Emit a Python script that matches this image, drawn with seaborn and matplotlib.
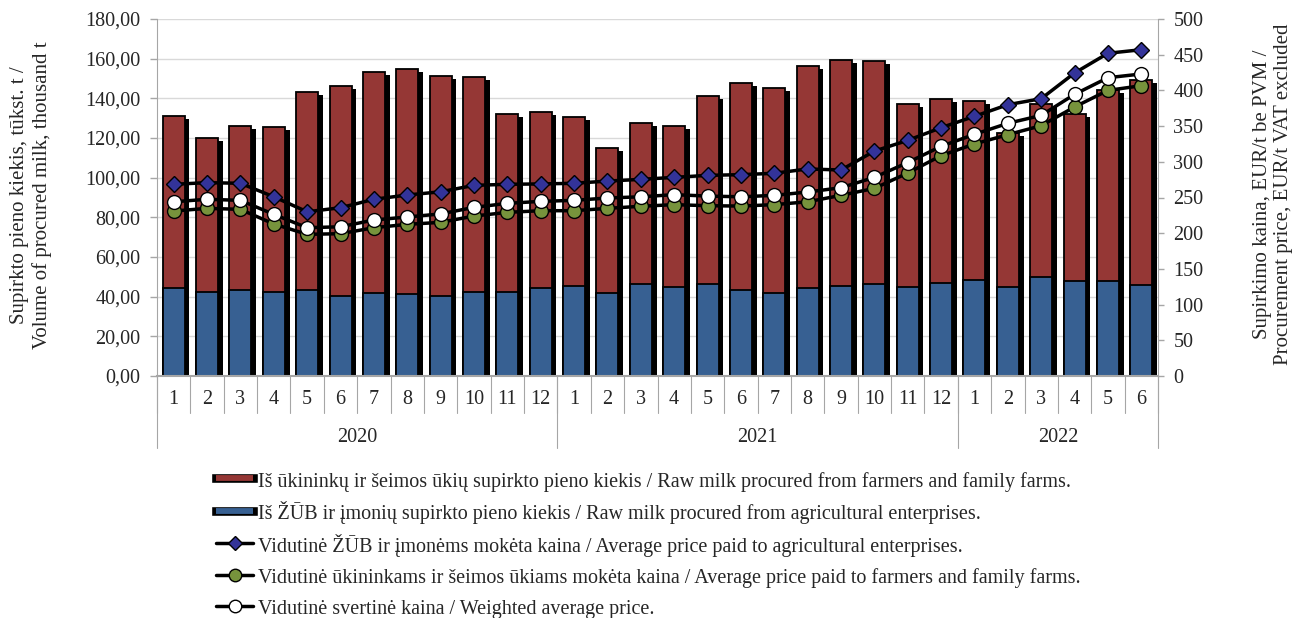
import numpy as np
import pandas as pd
import matplotlib
matplotlib.use("Agg")
import matplotlib.pyplot as plt
import matplotlib.patheffects as pe
import matplotlib.transforms as mtransforms
from matplotlib.lines import Line2D
from matplotlib.ticker import FuncFormatter, MultipleLocator
import seaborn as sns

# --- data ---
years = ["2020", "2021", "2022"]
year_months = [12, 12, 6]
months = list(range(1, 13)) + list(range(1, 13)) + list(range(1, 7))

# thousand t
enterprises_milk = [44.2, 42.2, 43.5, 42.2, 43.2, 40.2, 41.7, 41.5, 40.2, 42.4, 42.2, 44.2,
                    45.4, 41.7, 46.5, 44.9, 46.2, 43.2, 42.0, 44.4, 45.5, 46.4, 45.0, 46.7,
                    48.4, 44.7, 50.1, 47.9, 48.1, 45.9]
farmers_milk = [86.9, 77.7, 82.6, 83.2, 100.2, 106.0, 111.8, 113.5, 110.9, 108.4, 89.9, 89.1,
                85.4, 73.4, 81.2, 81.0, 95.1, 104.7, 103.2, 111.9, 113.7, 112.3, 92.0, 93.2,
                90.4, 78.0, 86.9, 84.2, 95.9, 103.4]

# EUR/t
price_enterprises = [268.5, 270.8, 269.9, 251.0, 230.0, 235.7, 247.5, 253.5, 258.0, 267.0, 268.5, 269.0,
                     269.9, 273.0, 275.4, 278.2, 281.0, 282.0, 283.9, 290.0, 288.5, 315.0, 330.0, 347.8,
                     363.7, 380.0, 388.4, 424.4, 452.0, 457.0]
price_farmers = [231.0, 234.8, 233.4, 212.9, 198.4, 199.3, 207.7, 212.4, 215.2, 224.0, 229.2, 231.5,
                 231.5, 234.8, 237.7, 240.0, 238.5, 238.0, 240.0, 244.0, 253.0, 262.8, 284.3, 308.6,
                 325.0, 338.0, 350.6, 376.8, 400.0, 406.6]
price_weighted = [244.0, 247.5, 246.0, 226.4, 207.7, 209.0, 218.5, 222.7, 227.0, 236.2, 241.8, 244.6,
                  246.0, 249.3, 251.0, 254.0, 252.0, 251.0, 253.0, 257.7, 263.7, 278.2, 299.0, 321.7,
                  338.5, 353.9, 365.0, 394.5, 417.8, 423.0]

labels = [
    "Iš ūkininkų ir šeimos ūkių supirkto pieno kiekis / Raw milk procured from farmers and family farms.",
    "Iš ŽŪB ir įmonių supirkto pieno kiekis / Raw milk procured from agricultural enterprises.",
    "Vidutinė ŽŪB ir įmonėms mokėta kaina / Average price paid to agricultural enterprises.",
    "Vidutinė ūkininkams ir šeimos ūkiams mokėta kaina / Average price paid to farmers and family farms.",
    "Vidutinė svertinė kaina / Weighted average price.",
]

red = "#953735"
blue = "#376092"
green = "#77933C"
navy = "#333399"
grey = "#A6A6A6"

df = pd.DataFrame({
    "pos": np.arange(len(months)),
    "month": months,
    "enterprises": enterprises_milk,
    "farmers": farmers_milk,
})
df["stack_top"] = df["enterprises"] + df["farmers"]

sns.set_style("white")
plt.rcParams["font.family"] = ["Liberation Serif", "DejaVu Serif"]
plt.rcParams["font.size"] = 14.5

fig = plt.figure(figsize=(12.96, 6.18), dpi=100)
ax = fig.add_axes([157 / 1296, 1 - 376 / 618, 1001 / 1296, 357 / 618])

# stacked bars: farmers drawn as full stack, enterprises on top of it
sns.barplot(data=df, x="pos", y="stack_top", color=red, saturation=1, width=0.66,
            edgecolor="black", linewidth=1.3, ax=ax)
sns.barplot(data=df, x="pos", y="enterprises", color=blue, saturation=1, width=0.66,
            edgecolor="black", linewidth=1.3, ax=ax)
shadow = [pe.SimplePatchShadow(offset=(3.4, -2.2), shadow_rgbFace="black", alpha=1), pe.Normal()]
for p in ax.patches:
    p.set_path_effects(shadow)

ax.set_ylim(0, 180)
ax.yaxis.set_major_locator(MultipleLocator(20))
ax.yaxis.set_major_formatter(FuncFormatter(lambda v, _: f"{v:.2f}".replace(".", ",")))
ax.yaxis.grid(True, color="#D9D9D9", lw=1)
ax.set_axisbelow(True)
ax.set_xlim(-0.5, len(months) - 0.5)
ax.set_xticks(df["pos"])
ax.set_xticklabels(months)
ax.tick_params(axis="x", length=0, pad=10)
ax.tick_params(axis="y", length=5, color=grey, width=1, direction="out", pad=7)
ax.set_xlabel("")
ax.set_ylabel("")
for s in ["top", "right"]:
    ax.spines[s].set_visible(False)
ax.spines["left"].set_color(grey)
ax.spines["bottom"].set_color(grey)
ax.spines["bottom"].set_linewidth(1.5)

# price lines on the secondary axis
ax2 = ax.twinx()
line_kw = dict(color="black", lw=2.5, markeredgecolor="black", markeredgewidth=1, ax=ax2)
sns.lineplot(x=df["pos"], y=price_enterprises, marker="D", markersize=8.5,
             markerfacecolor=navy, **line_kw)
sns.lineplot(x=df["pos"], y=price_farmers, marker="o", markersize=10,
             markerfacecolor=green, **line_kw)
sns.lineplot(x=df["pos"], y=price_weighted, marker="o", markersize=10,
             markerfacecolor="white", **line_kw)
ax2.set_ylim(0, 500)
ax2.set_xlim(-0.5, len(months) - 0.5)
ax2.yaxis.set_major_locator(MultipleLocator(50))
ax2.tick_params(axis="y", length=4, color=grey, width=1, direction="out", pad=7)
ax2.set_ylabel("")
for s in ["top", "left", "bottom"]:
    ax2.spines[s].set_visible(False)
ax2.spines["right"].set_color(grey)

# two-level category axis: month separators and year labels
trans = mtransforms.blended_transform_factory(ax.transData, ax.transAxes)
for b in np.arange(len(months) + 1) - 0.5:
    ax.plot([b, b], [0, -37 / 357], transform=trans, clip_on=False, color=grey, lw=0.8)
start = 0
for yr, n in zip(years, year_months):
    ax.plot([start - 0.5, start - 0.5], [0, -72 / 357], transform=trans, clip_on=False,
            color=grey, lw=0.8)
    ax.text(start + n / 2 - 0.5, -61 / 357, yr, transform=trans, ha="center", va="center")
    start += n
ax.plot([start - 0.5, start - 0.5], [0, -72 / 357], transform=trans, clip_on=False,
        color=grey, lw=0.8)

fig.text(31 / 1296, 1 - 195 / 618,
         "Supirkto pieno kiekis, tūkst. t /\nVolume of procured milk, thousand t",
         rotation=90, ha="center", va="center", multialignment="center", fontsize=15)
fig.text(1273 / 1296, 1 - 194 / 618,
         "Supirkimo kaina, EUR/t be PVM /\nProcurement price, EUR/t VAT excluded",
         rotation=90, ha="center", va="center", multialignment="center", fontsize=15)

# legend handles: bar swatches as thick outlined strokes so every row has the same height
def swatch(col):
    return Line2D([], [], color=col, lw=4.2, solid_capstyle="butt",
                  path_effects=[pe.Stroke(linewidth=6.2, foreground="black", capstyle="projecting"),
                                pe.Normal()])

handles = [
    swatch(red),
    swatch(blue),
    Line2D([], [], color="black", lw=2.5, marker="D", ms=7, mfc=navy, mec="black"),
    Line2D([], [], color="black", lw=2.5, marker="o", ms=9, mfc=green, mec="black"),
    Line2D([], [], color="black", lw=2.5, marker="o", ms=9, mfc="white", mec="black"),
]
fig.legend(handles, labels, loc="upper left", bbox_to_anchor=(216 / 1296, 1 - 470 / 618),
           frameon=False, borderpad=0, borderaxespad=0, handlelength=1.85, handleheight=1.15,
           handletextpad=0.25, labelspacing=0.47, fontsize=14.5)

fig.savefig("out.png", dpi=100)
